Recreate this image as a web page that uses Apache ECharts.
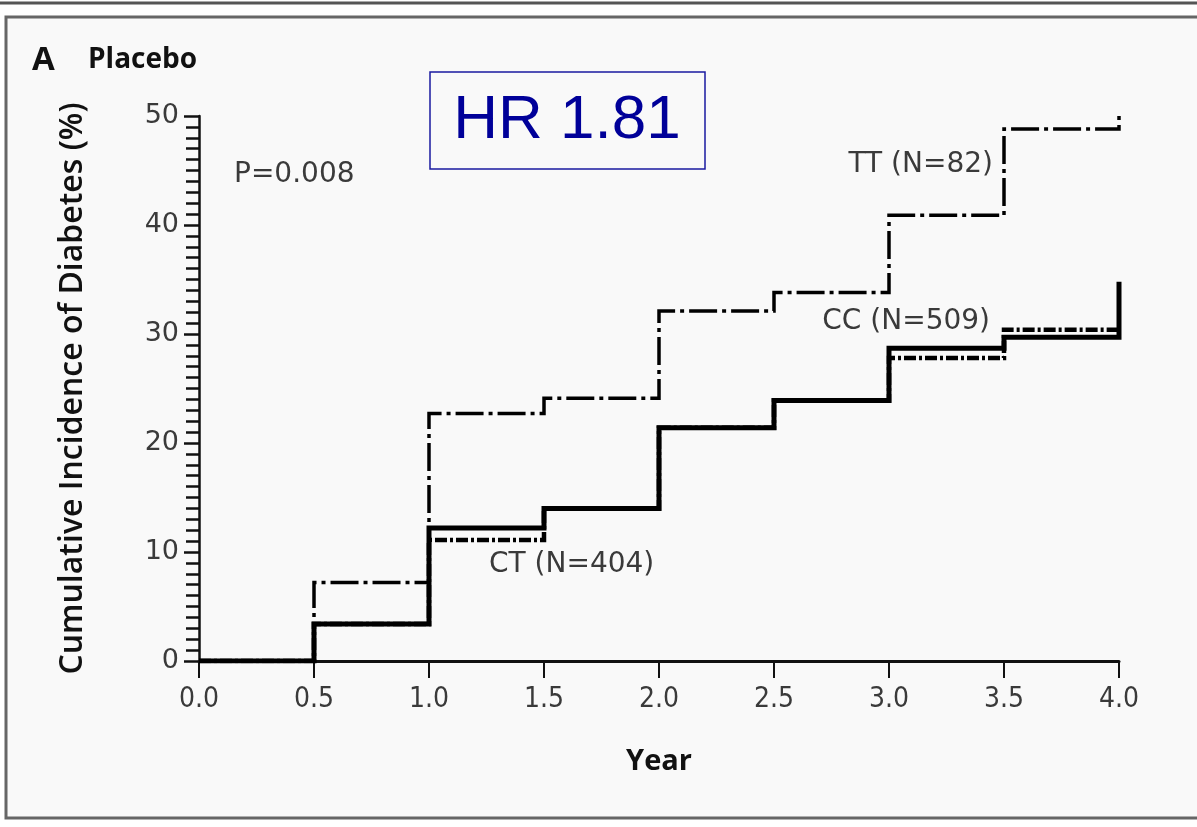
<!DOCTYPE html>
<html>
<head>
<meta charset="utf-8">
<title>Placebo – Cumulative Incidence of Diabetes</title>
<script src="https://cdn.jsdelivr.net/npm/echarts@6/dist/echarts.min.js"></script>
<style>
  html, body { margin: 0; padding: 0; background: #ffffff; }
  #chart { width: 1197px; height: 827px; }
</style>
</head>
<body>
<div id="chart"></div>
<script>
// Follow-up time (years) at which each step of the curves starts
const years = [0, 0.5, 1.0, 1.5, 2.0, 2.5, 3.0, 3.5, 4.0];
// Cumulative incidence of diabetes (%) by genotype
const ttValues = [0, 7.2, 22.7, 24.1, 32.1, 33.8, 40.9, 48.8, 50.1];
const ctValues = [0, 3.4, 11.1, 14.0, 21.4, 23.9, 27.8, 30.4, 30.4];
const ccValues = [0, 3.4, 12.2, 14.0, 21.4, 23.9, 28.7, 29.7, 34.8];
// Axis tick labels
const xTickLabels = ['0.0', '0.5', '1.0', '1.5', '2.0', '2.5', '3.0', '3.5', '4.0'];
const yTicks = [0, 10, 20, 30, 40, 50];

const pairs = vals => years.map((x, i) => [x, vals[i]]);

const chart = echarts.init(document.getElementById('chart'), null, { renderer: 'canvas' });

const labelFont = '"DejaVu Sans", sans-serif';
const titleFont = '"Open Sans", sans-serif';

chart.setOption({
  backgroundColor: '#ffffff',
  animation: false,
  grid: { left: 199, right: 78, top: 116, bottom: 166, containLabel: false },
  xAxis: {
    type: 'value',
    min: 0, max: 4, interval: 0.5,
    name: 'Year',
    nameLocation: 'middle',
    nameGap: 86,
    nameTextStyle: { fontFamily: titleFont, fontWeight: 700, fontSize: 29, color: '#111' },
    axisLine: { show: true, onZero: false, lineStyle: { color: '#111', width: 3 } },
    axisTick: { show: true, inside: false, length: 17, lineStyle: { color: '#111', width: 2 } },
    axisLabel: {
      margin: 25,
      fontFamily: '"DejaVu Sans Condensed", "DejaVu Sans", sans-serif',
      fontSize: 28, color: '#3a3a3a',
      formatter: v => xTickLabels[Math.round(v / 0.5)] || ''
    },
    splitLine: { show: false }
  },
  yAxis: {
    type: 'value',
    min: 0, max: 50, interval: 10,
    name: 'Cumulative Incidence of Diabetes (%)',
    nameLocation: 'middle',
    nameRotate: 90,
    nameGap: 110,
    nameTextStyle: { fontFamily: titleFont, fontWeight: 600, fontSize: 32, color: '#111' },
    axisLine: { show: true, lineStyle: { color: '#111', width: 2.5 } },
    axisTick: { show: true, inside: false, length: 15, lineStyle: { color: '#111', width: 2.5 } },
    minorTick: { show: true, splitNumber: 10, length: 13, lineStyle: { color: '#111', width: 2.5 } },
    axisLabel: {
      margin: 20,
      fontFamily: labelFont, fontSize: 27, color: '#3a3a3a',
      formatter: v => (yTicks.indexOf(v) >= 0 ? String(v) : '')
    },
    splitLine: { show: false },
    minorSplitLine: { show: false }
  },
  series: [
    {
      name: 'TT (N=82)',
      type: 'line',
      step: 'end',
      data: pairs(ttValues),
      showSymbol: false,
      lineStyle: { color: '#000', width: 3.5, type: [28, 5, 4, 5], cap: 'butt', join: 'miter' },
      z: 3
    },
    {
      name: 'CT (N=404)',
      type: 'line',
      step: 'end',
      data: pairs(ctValues),
      showSymbol: false,
      lineStyle: { color: '#000', width: 4.5, type: [12, 3, 3, 3], cap: 'butt', join: 'miter' },
      z: 4
    },
    {
      name: 'CC (N=509)',
      type: 'line',
      step: 'end',
      data: pairs(ccValues),
      showSymbol: false,
      lineStyle: { color: '#000', width: 5, type: 'solid', cap: 'butt', join: 'miter' },
      z: 5
    }
  ],
  graphic: [
    // panel frame
    { type: 'line', shape: { x1: 0, y1: 3, x2: 1197, y2: 3 }, style: { stroke: '#555', lineWidth: 3 }, z: -1 },
    { type: 'rect', shape: { x: 6, y: 17, width: 1200, height: 801 },
      style: { fill: '#f9f9f9', stroke: '#666', lineWidth: 3 }, z: -10, silent: true },
    // panel heading
    { type: 'text', left: 32, top: 44,
      style: { text: 'A', fontFamily: titleFont, fontWeight: 700, fontSize: 33, fill: '#111' } },
    { type: 'text', left: 88, top: 46,
      style: { text: 'Placebo', fontFamily: titleFont, fontWeight: 700, fontSize: 28, fill: '#111' } },
    // hazard ratio box
    { type: 'rect', shape: { x: 430, y: 72, width: 275, height: 97 },
      style: { fill: 'transparent', stroke: '#1a1aa0', lineWidth: 1.5 }, z: 10 },
    { type: 'text', x: 567, y: 121,
      style: { text: 'HR 1.81', fontFamily: '"Liberation Sans", Arial, sans-serif', fontSize: 62,
        fill: '#000099', align: 'center', verticalAlign: 'middle' }, z: 10 },
    // annotations
    { type: 'text', x: 234, y: 175,
      style: { text: 'P=0.008', fontFamily: labelFont, fontSize: 28, fill: '#3a3a3a', verticalAlign: 'middle' } },
    { type: 'text', x: 993, y: 165,
      style: { text: 'TT (N=82)', fontFamily: labelFont, fontSize: 28, fill: '#3a3a3a', align: 'right', verticalAlign: 'middle' } },
    { type: 'text', x: 990, y: 322,
      style: { text: 'CC (N=509)', fontFamily: labelFont, fontSize: 28, fill: '#3a3a3a', align: 'right', verticalAlign: 'middle' } },
    { type: 'text', x: 489, y: 565,
      style: { text: 'CT (N=404)', fontFamily: labelFont, fontSize: 28, fill: '#3a3a3a', verticalAlign: 'middle' } }
  ]
});
</script>
</body>
</html>
